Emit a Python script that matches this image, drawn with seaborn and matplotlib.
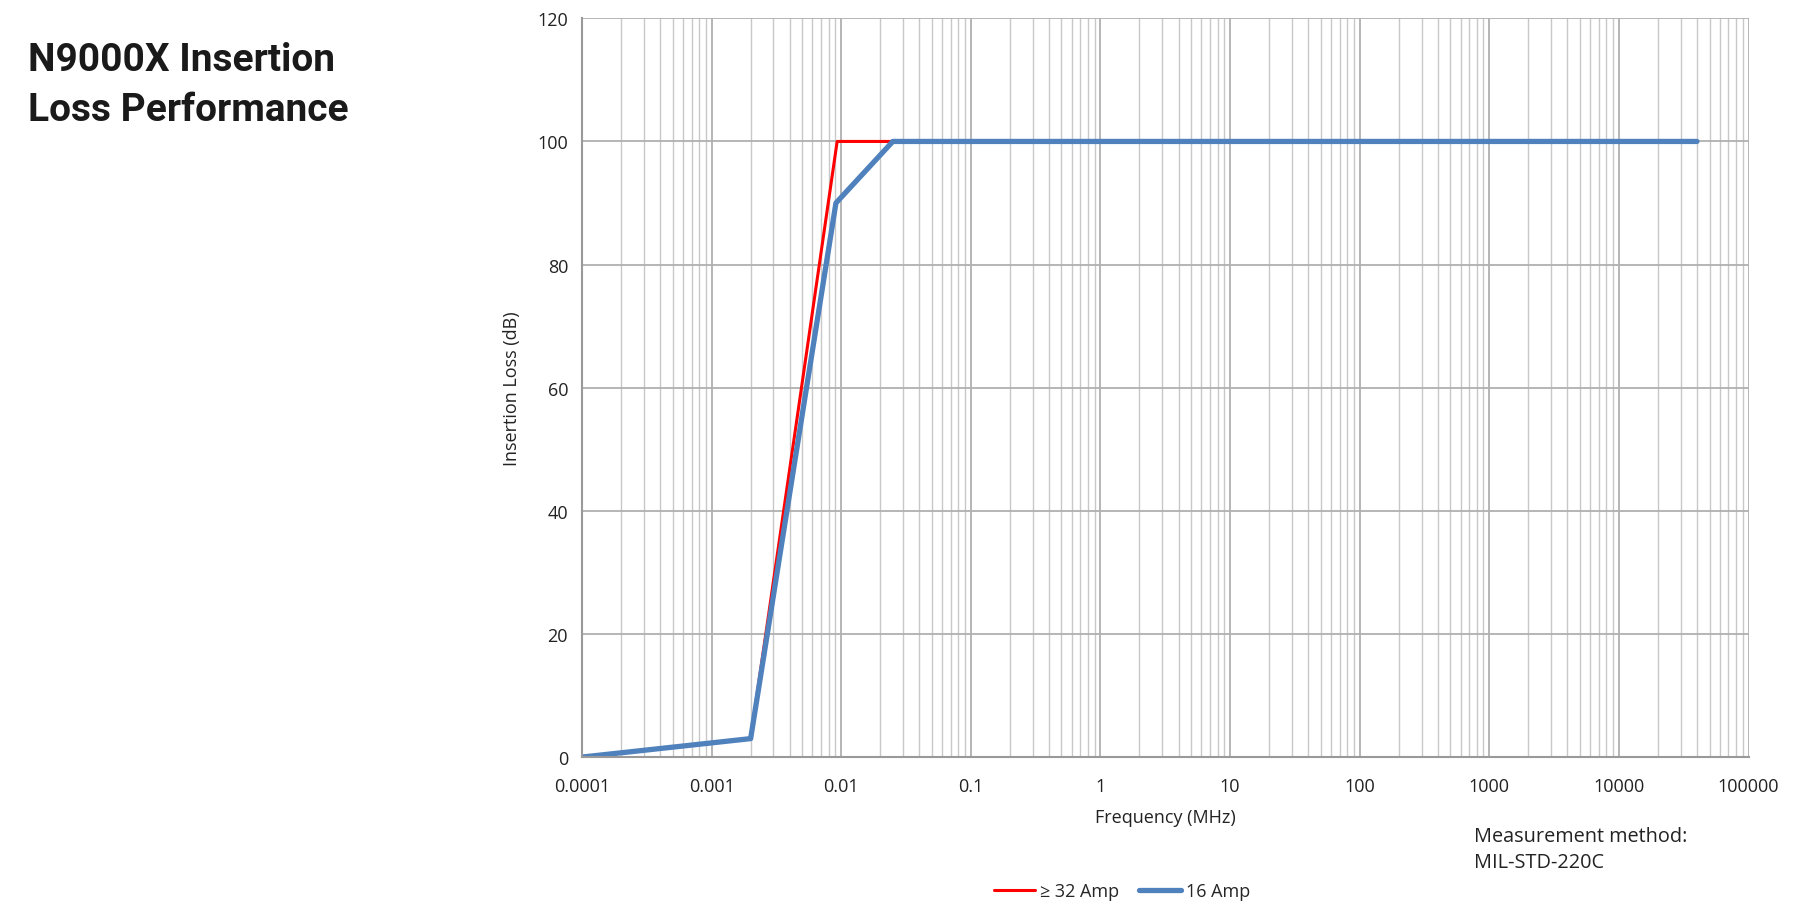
import matplotlib
matplotlib.use('Agg')
import matplotlib.pyplot as plt
import pandas as pd
import seaborn as sns

# Data
freq_32 = [0.0001, 0.002, 0.0093, 0.025, 40000]
loss_32 = [0, 3, 100, 100, 100]
freq_16 = [0.0001, 0.002, 0.0091, 0.025, 40000]
loss_16 = [0, 3, 90, 100, 100]
x_ticks = [0.0001, 0.001, 0.01, 0.1, 1, 10, 100, 1000, 10000, 100000]
x_tick_labels = ['0.0001', '0.001', '0.01', '0.1', '1', '10', '100', '1000', '10000', '100000']
y_ticks = [0, 20, 40, 60, 80, 100, 120]

sns.set_style('white')
plt.rcParams['font.family'] = ['Open Sans', 'DejaVu Sans']

df = pd.concat([
    pd.DataFrame({'freq': freq_32, 'loss': loss_32, 'series': '≥ 32 Amp'}),
    pd.DataFrame({'freq': freq_16, 'loss': loss_16, 'series': '16 Amp'}),
])

fig = plt.figure(figsize=(18.03, 9.2), dpi=100)
ax = fig.add_axes([0.3228, 0.176, 0.647, 0.803])

sns.lineplot(data=df[df['series'] == '≥ 32 Amp'], x='freq', y='loss', ax=ax,
             color='#FF0000', linewidth=2.2, label='≥ 32 Amp', sort=False)
sns.lineplot(data=df[df['series'] == '16 Amp'], x='freq', y='loss', ax=ax,
             color='#4F81BD', linewidth=3.8, label='16 Amp', sort=False)

ax.set_xscale('log')
ax.set_xlim(0.0001, 100000)
ax.set_ylim(0, 120)
ax.set_xticks(x_ticks)
ax.set_xticklabels(x_tick_labels)
ax.set_yticks(y_ticks)
ax.tick_params(axis='both', labelsize=13, length=0, colors='#222222')
ax.tick_params(axis='x', pad=14)
ax.tick_params(axis='y', pad=10)
ax.grid(True, which='major', color='#B0B0B0', linewidth=1.3)
ax.grid(True, which='minor', axis='x', color='#C8C8C8', linewidth=1.0)
ax.set_axisbelow(True)
for s in ['top', 'right']:
    ax.spines[s].set_visible(False)
for s in ['left', 'bottom']:
    ax.spines[s].set_color('#999999')
    ax.spines[s].set_linewidth(1.5)

ax.set_xlabel('Frequency (MHz)', fontsize=13, labelpad=10, color='#222222')
ax.set_ylabel('Insertion Loss (dB)', fontsize=13, labelpad=12, color='#222222')

ax.legend(loc='upper center', bbox_to_anchor=(0.463, -0.147), ncol=2, frameon=False,
          fontsize=13, handlelength=2.3, handletextpad=0.3, columnspacing=1.1)

fig.text(0.0155, 0.954, 'N9000X Insertion\nLoss Performance', fontsize=28, fontweight='bold',
         family=['Roboto', 'DejaVu Sans'], color='#1a1a1a',
         va='top', ha='left', linespacing=1.42)
fig.text(0.8175, 0.101, 'Measurement method:\nMIL-STD-220C', fontsize=14.3, color='#222222',
         ha='left', va='top', linespacing=1.4)

fig.savefig('out.png', dpi=100)
